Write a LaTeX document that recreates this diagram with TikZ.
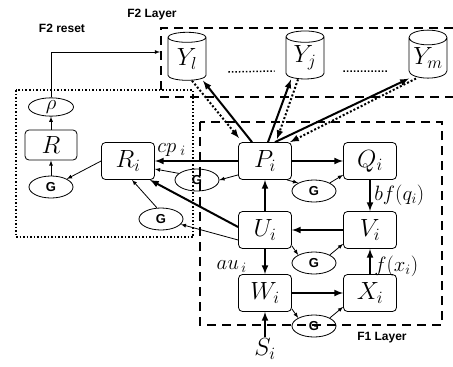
\documentclass[tikz,border=0pt]{standalone}
\usepackage{fontspec}
\newfontfamily\lblfont{Liberation Sans}
\usetikzlibrary{positioning}
\usetikzlibrary{arrows}
\usetikzlibrary{shapes.geometric}

\begin{document}
\begin{tikzpicture}[x=1pt, y=-1pt, >=latex,
    box/.style={draw, rounded corners=4pt, line width=0.8pt, minimum width=53pt, minimum height=37pt, font=\fontsize{26}{28}\selectfont},
    gnode/.style={draw, ellipse, line width=0.8pt, minimum width=44pt, minimum height=22pt, inner sep=0pt, font=\lblfont\bfseries\fontsize{13}{14}\selectfont},
    store/.style={draw, cylinder, shape border rotate=90, aspect=0.5, line width=0.8pt, minimum width=38pt, minimum height=48pt, inner sep=0pt, font=\fontsize{26}{28}\selectfont},
    thk/.style={->, line width=2pt},
    thn/.style={->, line width=0.8pt},
    fb/.style={->, line width=2pt, dotted},
    lbl/.style={font=\lblfont\bfseries\fontsize{12}{14}\selectfont},
    elbl/.style={font=\fontsize{20}{22}\selectfont}]
\useasboundingbox (0,0) rectangle (453,367);

% layer frames
\draw[line width=1.5pt, dotted] (16,90) rectangle (193,237);
\draw[line width=2.2pt, dash pattern=on 9pt off 6pt] (453,28) -- (161,28) -- (161,97) -- (453,97);
\draw[line width=2.2pt, dash pattern=on 9pt off 6pt] (200,122) rectangle (442,325);
\node[lbl] (f2lbl) at (152,15) {F2 Layer};
\node[lbl] (f2rst) at (62,28) {F2 reset};
\node[lbl] (f1lbl) at (382,338) {F1 Layer};

% F1 nodes
\node (P) [box] at (265,161) {$P_i$};
\node (Q) [box, right of=P, node distance=105pt] {$Q_i$};
\node (U) [box, below of=P, node distance=69pt] {$U_i$};
\node (V) [box, right of=U, node distance=105pt] {$V_i$};
\node (W) [box, below of=U, node distance=63pt] {$W_i$};
\node (X) [box, right of=W, node distance=105pt] {$X_i$};
\node (Ri) [box, left of=P, node distance=137pt] {$R_i$};
\node (S) [below of=W, node distance=56pt, inner sep=1pt, font=\fontsize{25}{27}\selectfont] {$S_i$};

% reset nodes
\node (R) [box, minimum width=52pt, minimum height=30pt] at (51,145) {$R$};
\node (rho) [draw, ellipse, line width=0.8pt, minimum width=45pt, minimum height=17pt, inner sep=0pt, above of=R, node distance=38pt, font=\fontsize{22}{24}\selectfont] {$\rho$};
\node (GR) [gnode, below of=R, node distance=42pt] {G};

% gain nodes
\node (G1) [gnode] at (197,180) {G};
\node (G2) [gnode] at (314,191) {G};
\node (G3) [gnode] at (161,219) {G};
\node (G4) [gnode] at (314,263) {G};
\node (G5) [gnode] at (314,326) {G};

% F2 nodes
\node (Yl) [store] at (187,59) {$Y_l$};
\node (Yj) [store] at (305,58) {$Y_j$};
\node (Ym) [store] at (428,58) {$Y_m$};
\draw[dotted, line width=1.5pt] ([shift={(22pt,-13pt)}]Yl.east) -- ([shift={(-11pt,-13pt)}]Yj.west);
\draw[dotted, line width=1.5pt] ([shift={(19pt,-13pt)}]Yj.east) -- ([shift={(-21pt,-13pt)}]Ym.west);

% F1 connections
\draw[thk] (P) -- (Ri) node[elbl, pos=0.8, above] {$cp_{\;i}$};
\draw[thk] (P) -- (Q);
\draw[thk] (U) -- (P);
\draw[thk] (U) -- (W) node[elbl, pos=0.7, left, xshift=-14pt] {$au_{\,i}$};
\draw[thk] (V) -- (U);
\draw[thk] (Q) -- (V) node[elbl, midway, right] {$bf(q_i)$};
\draw[thk] (X) -- (V) node[elbl, pos=0.3, right] {$f(x_i)$};
\draw[thk] (W) -- (X);
\draw[thk] (S) -- (W);
\draw[thk] ([yshift=3pt]U.west) -- ([xshift=-5pt]Ri.south east);
\draw[thn] ([yshift=-10pt]U.west) -- (G3.-15);
\draw[thn] (G3.110) -- ([xshift=4pt]Ri.south);
\draw[thn] ([yshift=5pt]P.south west) -- (G1.east);
\draw[thn] (G1.160) -- ([yshift=-8pt]Ri.east);
\draw[thn] ([xshift=-5pt]P.south east) -- (G2.north west);
\draw[thn] (G2.north east) -- ([yshift=5pt]Q.south west);
\draw[thn] ([yshift=3pt]U.south east) -- (G4.north west);
\draw[thn] (G4.north east) -- ([yshift=5pt]V.south west);
\draw[thn] ([yshift=3pt]W.south east) -- (G5.north west);
\draw[thn] (G5.north east) -- ([yshift=5pt]X.south west);

% reset connections
\draw[thn] (Ri.west) -- (GR.north east);
\draw[thn] (GR) -- (R);
\draw[thn] (R) -- (rho);
\coordinate (f2in) at (160,52);
\draw[thn] (rho) |- (f2in);

% F1 <-> F2
\draw[thk] ([xshift=-13pt]P.north) -- ([xshift=16pt]Yl.south);
\draw[fb] ([xshift=5pt]Yl.south) -- ([xshift=-26pt, yshift=4pt]P.north);
\draw[thk] ([xshift=3pt]P.north) -- ([xshift=-14pt]Yj.south);
\draw[fb] ([xshift=-7pt]Yj.south) -- ([xshift=12pt, yshift=3pt]P.north);
\draw[thk] ([xshift=10pt]P.north) -- ([xshift=-19pt]Ym.south);
\draw[fb] ([xshift=-12pt]Ym.south) -- ([xshift=25pt]P.north);
\end{tikzpicture}
\end{document}
